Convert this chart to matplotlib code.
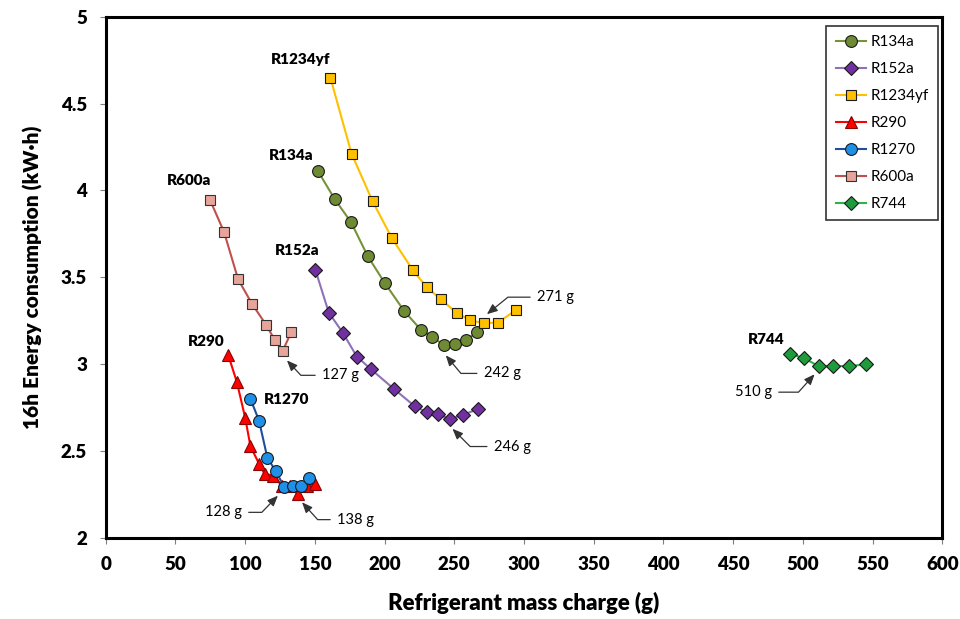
import matplotlib
matplotlib.use('Agg')
import matplotlib.pyplot as plt

plt.rcParams['font.family'] = ['Lato', 'DejaVu Sans']

# ---------------- data ----------------
r134a_x = [152.3, 164.2, 176.0, 188.0, 200.2, 214.2, 226.4, 234.3, 242.4, 250.6, 258.5, 266.4]
r134a_y = [4.11, 3.95, 3.816, 3.62, 3.466, 3.304, 3.194, 3.158, 3.108, 3.115, 3.137, 3.185]

r152a_x = [150.4, 160.0, 170.0, 180.1, 190.1, 206.5, 221.8, 230.2, 238.6, 246.8, 256.3, 266.7]
r152a_y = [3.542, 3.296, 3.181, 3.043, 2.971, 2.858, 2.756, 2.723, 2.71, 2.683, 2.708, 2.74]

r1234yf_x = [161.2, 176.3, 191.4, 205.3, 220.4, 230.4, 240.5, 251.6, 261.4, 271.4, 281.3, 294.5]
r1234yf_y = [4.647, 4.212, 3.937, 3.724, 3.539, 3.441, 3.372, 3.295, 3.252, 3.235, 3.239, 3.312]

r290_x = [87.8, 94.0, 100.0, 103.8, 109.9, 113.9, 119.9, 126.4, 132.0, 137.6, 144.4, 150.1]
r290_y = [3.054, 2.898, 2.692, 2.527, 2.427, 2.368, 2.358, 2.30, 2.30, 2.252, 2.30, 2.31]

r1270_x = [103.8, 110.0, 116.0, 122.1, 128.1, 134.0, 140.0, 146.0]
r1270_y = [2.80, 2.673, 2.458, 2.383, 2.29, 2.296, 2.296, 2.344]

r600a_x = [74.8, 84.9, 95.0, 105.0, 115.1, 121.1, 126.8, 133.1]
r600a_y = [3.945, 3.76, 3.487, 3.346, 3.225, 3.141, 3.073, 3.185]

r744_x = [490.9, 501.0, 511.3, 521.6, 532.9, 545.3]
r744_y = [3.06, 3.033, 2.988, 2.988, 2.988, 2.998]

x_ticks = [0, 50, 100, 150, 200, 250, 300, 350, 400, 450, 500, 550, 600]
y_ticks = [2, 2.5, 3, 3.5, 4, 4.5, 5]
y_tick_labels = ['2', '2.5', '3', '3.5', '4', '4.5', '5']

# series names with their in-plot label positions (x, y)
series_labels = {
    'R1234yf': (118.7, 4.752),
    'R134a': (116.8, 4.198),
    'R152a': (121.6, 3.652),
    'R600a': (43.7, 4.056),
    'R290': (59.2, 3.127),
    'R1270': (113.2, 2.796),
    'R744': (460.9, 3.143),
}

# annotations: text, tip (x, y), text (x, y), ha, angleB
annots = [
    ('271 g', (273.4, 3.287), (309.4, 3.385), 'left', 39),
    ('242 g', (243.9, 3.050), (271.2, 2.946), 'left', -50),
    ('246 g', (248.7, 2.627), (278.4, 2.525), 'left', -45),
    ('127 g', (130.0, 3.021), (155.2, 2.935), 'left', -47),
    ('128 g', (123.5, 2.242), (97.6, 2.146), 'right', 46),
    ('138 g', (140.8, 2.204), (166.0, 2.104), 'left', -48),
    ('510 g', (508.4, 2.941), (477.7, 2.838), 'right', 48),
]

# ---------------- figure ----------------
fig = plt.figure(figsize=(9.6, 6.19), dpi=100)
ax = fig.add_axes([105.7 / 960, 1 - 537.7 / 619, (942.3 - 105.7) / 960, (537.7 - 16.7) / 619])

mec = '#1a1a1a'
ax.plot(r134a_x, r134a_y, '-o', color='#76923C', mfc='#6E8B33', mec=mec, mew=0.8, ms=8.5, lw=1.5, label='R134a', zorder=3)
ax.plot(r152a_x, r152a_y, '-D', color='#8E72B8', mfc='#7030A0', mec=mec, mew=0.8, ms=7, lw=1.5, label='R152a', zorder=3)
ax.plot(r1234yf_x, r1234yf_y, '-s', color='#FFC000', mfc='#FFC000', mec=mec, mew=0.8, ms=7, lw=1.5, label='R1234yf', zorder=3)
ax.plot(r290_x, r290_y, '-^', color='#FF0000', mfc='#FF0000', mec='#8B0000', mew=0.8, ms=8.5, lw=1.5, label='R290', zorder=3)
ax.plot(r1270_x, r1270_y, '-o', color='#1F4E9A', mfc='#1E90E8', mec=mec, mew=0.8, ms=8.5, lw=1.5, label='R1270', zorder=4)
ax.plot(r600a_x, r600a_y, '-s', color='#C0504D', mfc='#E6A49A', mec='#333333', mew=0.8, ms=7, lw=1.5, label='R600a', zorder=3)
ax.plot(r744_x, r744_y, '-D', color='#2DB34A', mfc='#1E9B3A', mec=mec, mew=0.8, ms=7, lw=1.5, label='R744', zorder=3)

ax.set_xlim(0, 600)
ax.set_ylim(2, 5)
ax.set_xticks(x_ticks)
ax.set_xticklabels([str(v) for v in x_ticks], fontweight='heavy', fontsize=13.5)
ax.set_yticks(y_ticks)
ax.set_yticklabels(y_tick_labels, fontweight='heavy', fontsize=13.5)

for sp in ax.spines.values():
    sp.set_linewidth(2.2)
    sp.set_color('black')

ax.tick_params(axis='both', direction='out', length=4.5, width=0.8, color='#7f7f7f', pad=9)

ax.set_xlabel('Refrigerant mass charge (g)', fontsize=16, fontweight='heavy', labelpad=13)
ax.set_ylabel('16h Energy consumption (kW\u00b7h)', fontsize=15, fontweight='heavy', labelpad=13)

for name, (tx, ty) in series_labels.items():
    ax.text(tx, ty, name, fontsize=11, fontweight='heavy', ha='left', va='center', zorder=5)

for txt, tip, tpos, ha, angB in annots:
    ax.annotate(txt, xy=tip, xytext=tpos, ha=ha, va='center', fontsize=10.5,
                arrowprops=dict(arrowstyle='-|>,head_length=0.6,head_width=0.25', color='#333333', lw=0.9,
                                shrinkA=3, shrinkB=0,
                                connectionstyle='angle,angleA=0,angleB=%d,rad=0' % angB),
                zorder=5)

leg = ax.legend(loc='upper right', bbox_to_anchor=(0.995, 0.982), fontsize=11, frameon=True,
                fancybox=False, edgecolor='black', labelspacing=0.85, handlelength=2.0,
                handletextpad=0.3, borderpad=0.6, borderaxespad=0)
leg.get_frame().set_linewidth(1.2)

fig.savefig('out.png', dpi=100)
